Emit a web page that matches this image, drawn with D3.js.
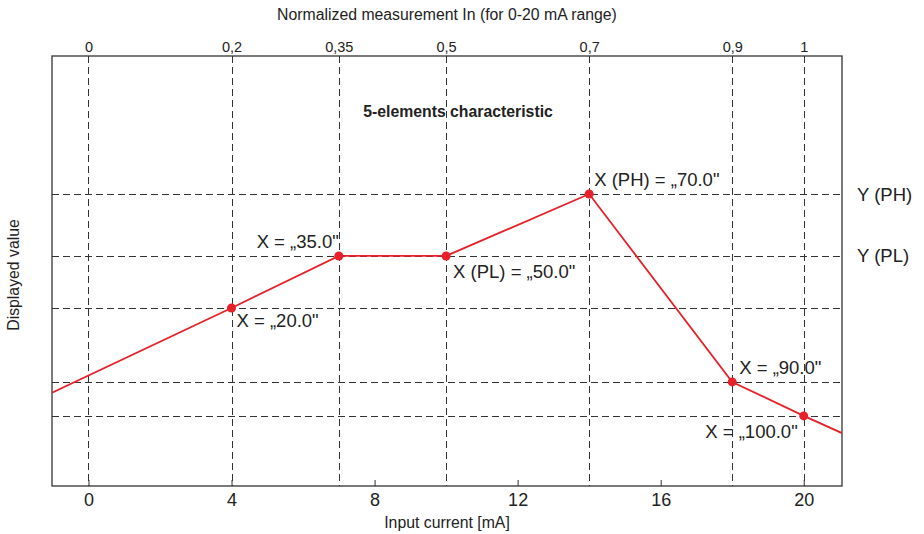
<!DOCTYPE html>
<html>
<head>
<meta charset="utf-8">
<script src="https://cdn.jsdelivr.net/npm/d3@7"></script>
<style>
  html, body { margin: 0; padding: 0; background: #fff; }
  svg { display: block; font-family: "Liberation Sans", Arial, Helvetica, sans-serif; }
</style>
</head>
<body>
<svg id="chart" width="924" height="534"></svg>
<script>
// Characteristic points: normalized input In (0..1 over 0-20 mA) and displayed value
const pointNorm = [0.2, 0.35, 0.5, 0.7, 0.9, 1.0];
const pointDisplay = [41.4, 53.5, 53.5, 67.9, 24.2, 16.3];
const pointLabels = ["X = \u201E20.0\"", "X = \u201E35.0\"", "X (PL) = \u201E50.0\"",
                     "X (PH) = \u201E70.0\"", "X = \u201E90.0\"", "X = \u201E100.0\""];
// Extrapolated ends of the characteristic beyond the first / last point (mA, display)
const startCurrent = [-1.02];
const startDisplay = [21.7];
const endCurrent = [21.07];
const endDisplay = [12.3];

// Axis ticks
const currentTicks = [0, 4, 8, 12, 16, 20];
const normTicks = [0, 0.2, 0.35, 0.5, 0.7, 0.9, 1];
const normTickLabels = ["0", "0,2", "0,35", "0,5", "0,7", "0,9", "1"];
const rangeMax = 20; // mA at In = 1

// Reference levels on the right side
const levelNames = ["Y (PH)", "Y (PL)"];
const levelValues = [67.9, 53.5];

const W = 924, H = 534;
const margin = { top: 56, right: 82, bottom: 48, left: 52 };
const iw = W - margin.left - margin.right;
const ih = H - margin.top - margin.bottom;

const svg = d3.select("#chart");
const g = svg.append("g").attr("transform", `translate(${margin.left},${margin.top})`);

const x = d3.scaleLinear().domain([startCurrent[0], endCurrent[0]]).range([0, iw]);
const y = d3.scaleLinear().domain([0, 100]).range([ih, 0]);
const crisp = v => Math.round(v) + 0.5;

const pts = pointNorm.map((n, i) => ({ mA: n * rangeMax, v: pointDisplay[i], label: pointLabels[i] }));

const textColor = "#222";
const gridColor = "#333";
const red = "#e8202a";

// Dashed vertical guides at each characteristic point (and at 0 mA)
const vGuides = [0].concat(pointNorm.map(n => n * rangeMax));
g.selectAll("line.vguide").data(vGuides).join("line")
  .attr("class", "vguide")
  .attr("x1", d => crisp(x(d))).attr("x2", d => crisp(x(d)))
  .attr("y1", 0).attr("y2", ih)
  .attr("stroke", gridColor).attr("stroke-width", 1)
  .attr("stroke-dasharray", "7,4");

// Dashed horizontal guides at each distinct displayed value
const hGuides = Array.from(new Set(pointDisplay));
g.selectAll("line.hguide").data(hGuides).join("line")
  .attr("class", "hguide")
  .attr("x1", 0).attr("x2", iw)
  .attr("y1", d => crisp(y(d))).attr("y2", d => crisp(y(d)))
  .attr("stroke", gridColor).attr("stroke-width", 1)
  .attr("stroke-dasharray", "7,4");

// Bottom axis: input current
const xAxis = d3.axisBottom(x).tickValues(currentTicks).tickSizeInner(-6).tickSizeOuter(0).tickPadding(7);
const gx = g.append("g").attr("transform", `translate(0,${ih})`).call(xAxis);
gx.select(".domain").remove();
gx.selectAll(".tick line").attr("stroke", "#333").attr("stroke-width", 1);
gx.selectAll(".tick text").attr("fill", textColor).attr("font-size", 18)
  .attr("font-family", "Liberation Sans, Arial, sans-serif");

// Top axis: normalized measurement
const xTop = d3.axisTop(x).tickValues(normTicks.map(n => n * rangeMax))
  .tickFormat((d, i) => normTickLabels[i]).tickSize(0).tickPadding(4.5);
const gt = g.append("g").call(xTop);
gt.select(".domain").remove();
gt.selectAll(".tick text").attr("fill", textColor).attr("font-size", 14.5)
  .attr("font-family", "Liberation Sans, Arial, sans-serif");

// Frame
g.append("rect").attr("x", 0).attr("y", 0).attr("width", iw).attr("height", ih)
  .attr("fill", "none").attr("stroke", "#333").attr("stroke-width", 1.3);

// Characteristic line, clipped to the plot frame
svg.append("clipPath").attr("id", "plotClip")
  .append("rect").attr("width", iw).attr("height", ih);
const lineData = [{ mA: startCurrent[0], v: startDisplay[0] }]
  .concat(pts)
  .concat([{ mA: endCurrent[0], v: endDisplay[0] }]);
const line = d3.line().x(d => x(d.mA)).y(d => y(d.v));
g.append("path").datum(lineData)
  .attr("clip-path", "url(#plotClip)")
  .attr("d", line).attr("fill", "none")
  .attr("stroke", red).attr("stroke-width", 1.8);

// Points
g.selectAll("circle.pt").data(pts).join("circle")
  .attr("class", "pt")
  .attr("cx", d => x(d.mA)).attr("cy", d => y(d.v)).attr("r", 4.5)
  .attr("fill", red);

// Point annotations: [dx, dy, anchor]
const labelPlacement = [
  [5, 19, "start"],
  [0, -8, "end"],
  [7, 22, "start"],
  [5, -8, "start"],
  [7, -8, "start"],
  [-6, 22, "end"]
];
g.selectAll("text.ptlabel").data(pts).join("text")
  .attr("class", "ptlabel")
  .attr("x", (d, i) => x(d.mA) + labelPlacement[i][0])
  .attr("y", (d, i) => y(d.v) + labelPlacement[i][1])
  .attr("text-anchor", (d, i) => labelPlacement[i][2])
  .attr("font-size", 18.5).attr("fill", textColor)
  .text(d => d.label);

// Right-side level names
g.selectAll("text.level").data(levelNames).join("text")
  .attr("class", "level")
  .attr("x", iw + 15)
  .attr("y", (d, i) => y(levelValues[i]) + 6.5)
  .attr("font-size", 18.5).attr("fill", textColor)
  .text(d => d);

// Titles
svg.append("text").attr("x", margin.left + iw / 2).attr("y", 19.5)
  .attr("text-anchor", "middle").attr("font-size", 15.8).attr("fill", textColor)
  .text("Normalized measurement In (for 0-20 mA range)");

svg.append("text").attr("x", margin.left + iw / 2).attr("y", 528)
  .attr("text-anchor", "middle").attr("font-size", 15.8).attr("fill", textColor)
  .text("Input current [mA]");

svg.append("text").attr("transform", "translate(19,275) rotate(-90)")
  .attr("text-anchor", "middle").attr("font-size", 15.8).attr("fill", textColor)
  .text("Displayed value");

svg.append("text").attr("x", 458).attr("y", 116.5)
  .attr("text-anchor", "middle").attr("font-size", 15.8).attr("font-weight", "bold")
  .attr("fill", textColor)
  .text("5-elements characteristic");
</script>
</body>
</html>
